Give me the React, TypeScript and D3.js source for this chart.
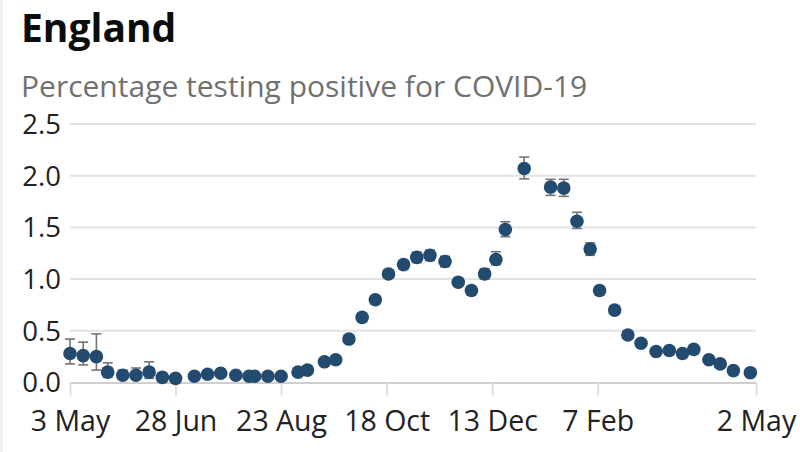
import React, { useEffect, useRef } from 'react';
import * as d3 from 'd3';

// ONS infection survey, England: estimated % testing positive with 95% CI
const dates = [
  '2020-05-03', '2020-05-10', '2020-05-17', '2020-05-23', '2020-05-31', '2020-06-07',
  '2020-06-14', '2020-06-21', '2020-06-28', '2020-07-08', '2020-07-15', '2020-07-22',
  '2020-07-30', '2020-08-06', '2020-08-09', '2020-08-16', '2020-08-23', '2020-09-01',
  '2020-09-06', '2020-09-15', '2020-09-21', '2020-09-28', '2020-10-05', '2020-10-12',
  '2020-10-19', '2020-10-27', '2020-11-03', '2020-11-10', '2020-11-18', '2020-11-25',
  '2020-12-02', '2020-12-09', '2020-12-15', '2020-12-20', '2020-12-30', '2021-01-13',
  '2021-01-20', '2021-01-27', '2021-02-03', '2021-02-08', '2021-02-16', '2021-02-23',
  '2021-03-02', '2021-03-10', '2021-03-17', '2021-03-24', '2021-03-30', '2021-04-07',
  '2021-04-13', '2021-04-20', '2021-04-29',
];
const values = [
  0.28, 0.26, 0.25, 0.10, 0.07, 0.07, 0.10, 0.05, 0.04, 0.06, 0.08, 0.09,
  0.07, 0.06, 0.06, 0.06, 0.06, 0.10, 0.12, 0.20, 0.22, 0.42, 0.63, 0.80,
  1.05, 1.14, 1.21, 1.23, 1.17, 0.97, 0.89, 1.05, 1.19, 1.48, 2.07, 1.89,
  1.88, 1.56, 1.29, 0.89, 0.70, 0.46, 0.38, 0.30, 0.31, 0.28, 0.32, 0.22,
  0.18, 0.115, 0.095,
];
const lower = [
  0.18, 0.17, 0.12, 0.05, 0.04, 0.03, 0.04, 0.02, 0.02, 0.04, 0.05, 0.07,
  0.05, 0.04, 0.04, 0.04, 0.04, 0.08, 0.10, 0.17, 0.19, 0.39, 0.59, 0.76,
  1.01, 1.10, 1.16, 1.18, 1.12, 0.93, 0.85, 1.00, 1.14, 1.41, 1.97, 1.81,
  1.80, 1.49, 1.23, 0.85, 0.66, 0.43, 0.35, 0.27, 0.28, 0.26, 0.29, 0.20,
  0.16, 0.10, 0.08,
];
const upper = [
  0.42, 0.39, 0.47, 0.19, 0.12, 0.14, 0.20, 0.09, 0.07, 0.09, 0.11, 0.12,
  0.10, 0.08, 0.08, 0.08, 0.08, 0.12, 0.14, 0.23, 0.25, 0.45, 0.67, 0.84,
  1.09, 1.18, 1.26, 1.28, 1.22, 1.01, 0.93, 1.10, 1.265, 1.555, 2.18, 1.965,
  1.965, 1.646, 1.35, 0.93, 0.74, 0.49, 0.41, 0.33, 0.34, 0.30, 0.35, 0.24,
  0.20, 0.13, 0.11,
];
const xTicks = ['2020-05-03', '2020-06-28', '2020-08-23', '2020-10-18', '2020-12-13', '2021-02-07', '2021-05-02'];
const yTicks = [0, 0.5, 1, 1.5, 2, 2.5];

const W = 800;
const H = 452;
const font = '"Open Sans", "Noto Sans", sans-serif';

const App = () => {
  const ref = useRef<SVGGElement>(null);

  useEffect(() => {
    const parse = d3.utcParse('%Y-%m-%d');
    const data = dates.map((d, i) => ({ date: parse(d)!, v: values[i], lo: lower[i], hi: upper[i] }));

    const x = d3.scaleUtc()
      .domain([parse('2020-05-03')!, parse('2021-05-02')!])
      .range([70, 756]);
    const y = d3.scaleLinear().domain([0, 2.5]).range([382.5, 124]);

    const g = d3.select(ref.current);
    g.selectAll('*').remove();

    // gridlines + y labels
    const grid = g.append('g');
    grid.selectAll('line')
      .data(yTicks.filter((t) => t > 0))
      .enter()
      .append('line')
      .attr('x1', x.range()[0])
      .attr('x2', x.range()[1])
      .attr('y1', (d) => y(d))
      .attr('y2', (d) => y(d))
      .attr('stroke', '#e3e3e3')
      .attr('stroke-width', 2);
    grid.selectAll('text')
      .data(yTicks)
      .enter()
      .append('text')
      .attr('x', 61)
      .attr('y', (d) => y(d))
      .attr('dy', '0.36em')
      .attr('text-anchor', 'end')
      .style('font-family', font)
      .style('font-size', '27.5px')
      .style('fill', '#222')
      .text((d) => d3.format('.1f')(d));

    // x axis
    const axis = g.append('g')
      .attr('transform', `translate(0,${y(0)})`)
      .call(
        d3.axisBottom(x)
          .tickValues(xTicks.map((t) => parse(t)!))
          .tickFormat((d) => d3.utcFormat('%-d %b')(d as Date))
          .tickSize(13)
          .tickSizeOuter(0)
      );
    axis.select('.domain').attr('stroke', '#cfcfcf').attr('stroke-width', 2);
    axis.selectAll('.tick line').attr('stroke', '#dedede').attr('stroke-width', 2);
    axis.selectAll('.tick text')
      .attr('y', 48)
      .attr('dy', '0')
      .style('font-family', font)
      .style('font-size', '28.5px')
      .style('fill', '#222');

    // error bars
    const err = g.append('g').attr('stroke', '#747474').attr('stroke-width', 1.6);
    const bars = err.selectAll('g').data(data).enter().append('g');
    bars.append('line')
      .attr('x1', (d) => x(d.date))
      .attr('x2', (d) => x(d.date))
      .attr('y1', (d) => y(d.lo))
      .attr('y2', (d) => y(d.hi));
    bars.append('line')
      .attr('x1', (d) => x(d.date) - 5)
      .attr('x2', (d) => x(d.date) + 5)
      .attr('y1', (d) => y(d.lo))
      .attr('y2', (d) => y(d.lo));
    bars.append('line')
      .attr('x1', (d) => x(d.date) - 5)
      .attr('x2', (d) => x(d.date) + 5)
      .attr('y1', (d) => y(d.hi))
      .attr('y2', (d) => y(d.hi));

    // points
    g.append('g')
      .selectAll('circle')
      .data(data)
      .enter()
      .append('circle')
      .attr('cx', (d) => x(d.date))
      .attr('cy', (d) => y(d.v))
      .attr('r', 6.8)
      .attr('fill', '#234a6f');
  }, []);

  return (
    <div style={{ position: 'absolute', left: 0, top: 0 }}>
      <svg width={W} height={H} style={{ display: 'block', background: '#fff' }}>
        <rect x={0} y={0} width={3} height={H} fill="#f0f0f0" />
        <text x={21} y={42} style={{ fontFamily: font, fontSize: '39px', fontWeight: 700, fill: '#0b0c0c' }}>
          England
        </text>
        <text x={21} y={97} style={{ fontFamily: font, fontSize: '30px', fill: '#707070' }}>
          Percentage testing positive for COVID-19
        </text>
        <g ref={ref} />
      </svg>
    </div>
  );
};

export default App;
